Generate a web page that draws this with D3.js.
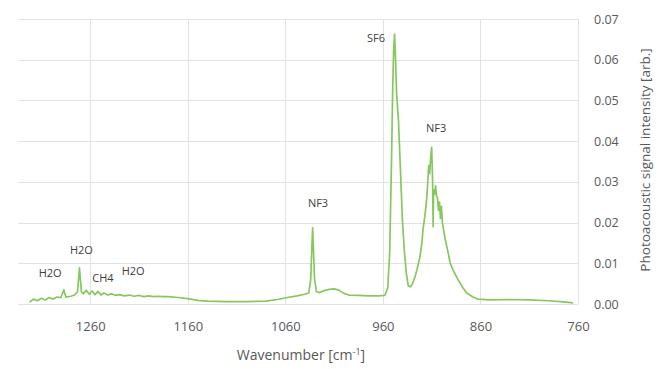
<!DOCTYPE html>
<html><head><meta charset="utf-8">
<script src="https://cdn.jsdelivr.net/npm/d3@7"></script>
<style>body{margin:0;background:#fff}svg{display:block;font-family:"Open Sans",sans-serif}</style>
</head><body><svg id="c" width="662" height="369"></svg>
<script>
const wavenumber = [1322,1318,1314,1310,1306,1302,1298,1294,1290,1287,1285,1280,1276,1273,1271,1269,1267,1264,1261,1258,1255,1252,1249,1246,1242,1238,1234,1230,1225,1220,1215,1210,1205,1200,1195,1190,1185,1180,1170,1160,1150,1140,1120,1100,1080,1068,1058,1048,1040,1036,1034,1032,1030,1028,1025,1020,1015,1010,1005,1000,995,985,975,965,958,955,953,952,951,950,949,948,947,946,944,942,940,938,936,934,932,930,927,925,922,920,919,917,915,914,913,912,911,910,909,908.5,908,907,906,905,904,903,902,901,900,899,898,896,893,891,887,883,878,874,868,863,850,830,810,790,775,765];
const intensity = [0.0005,0.0012,0.0008,0.0014,0.0010,0.0016,0.0012,0.0017,0.0016,0.0035,0.0017,0.0019,0.0022,0.0030,0.0089,0.0030,0.0025,0.0034,0.0024,0.0032,0.0023,0.0031,0.0022,0.0027,0.0022,0.0025,0.0021,0.0023,0.0020,0.0022,0.0019,0.0021,0.0018,0.0020,0.0018,0.0019,0.0018,0.0018,0.0016,0.0013,0.0009,0.0007,0.0006,0.0006,0.0007,0.0011,0.0016,0.0020,0.0024,0.0027,0.0060,0.0187,0.0060,0.0030,0.0028,0.0033,0.0036,0.0037,0.0034,0.0026,0.0022,0.0021,0.0020,0.0020,0.0021,0.0040,0.0126,0.0250,0.0370,0.0520,0.0620,0.0663,0.0600,0.0520,0.0450,0.0330,0.0207,0.0130,0.0076,0.0045,0.0042,0.0048,0.0067,0.0085,0.0116,0.0150,0.0180,0.0215,0.0260,0.0300,0.0340,0.0320,0.0360,0.0385,0.0300,0.0190,0.0280,0.0270,0.0290,0.0265,0.0260,0.0230,0.0250,0.0210,0.0240,0.0200,0.0185,0.0158,0.0125,0.0100,0.0078,0.0060,0.0040,0.0027,0.0018,0.0012,0.0010,0.0011,0.0010,0.0008,0.0005,0.0003];
const xTicks = [1260,1160,1060,960,860,760];
const yTicks = [0,0.01,0.02,0.03,0.04,0.05,0.06,0.07];
const labelText = ["H2O","H2O","CH4","H2O","NF3","SF6","NF3"];
const labelWn = [1301,1269,1247,1216,1026.5,967,905.5];
const labelVal = [0.0066,0.0123,0.0054,0.0071,0.0238,0.0644,0.0423];

const svg = d3.select("#c");
const L=18,R=578,T=19,B=304;
const x = d3.scaleLinear().domain([1334,760]).range([L,R]);
const y = d3.scaleLinear().domain([0,0.07]).range([B,T]);

const grid = svg.append("g").attr("stroke","#e2e2e2").attr("stroke-width",1);
grid.selectAll("line.h").data(yTicks).join("line").attr("class","h")
  .attr("x1",L).attr("x2",R).attr("y1",d=>Math.round(y(d))+0.5).attr("y2",d=>Math.round(y(d))+0.5);
grid.selectAll("line.v").data(xTicks).join("line").attr("class","v")
  .attr("y1",T).attr("y2",B).attr("x1",d=>Math.round(x(d))+0.5).attr("x2",d=>Math.round(x(d))+0.5);

const xa = svg.append("g").attr("transform",`translate(0,${B})`)
  .call(d3.axisBottom(x).tickValues(xTicks).tickSize(0).tickPadding(18).tickFormat(d3.format("d")));
xa.select(".domain").remove();
xa.selectAll("text").attr("fill","#595959").attr("font-size","13px").attr("font-family","Open Sans");

const ya = svg.append("g").attr("transform",`translate(${R},0)`)
  .call(d3.axisRight(y).tickValues(yTicks).tickSize(0).tickPadding(16).tickFormat(d3.format(".2f")));
ya.select(".domain").remove();
ya.selectAll("text").attr("fill","#595959").attr("font-size","12.5px").attr("font-family","Open Sans");

const data = wavenumber.map((w,i)=>[w,intensity[i]]);
svg.append("path").datum(data)
  .attr("fill","none").attr("stroke","#86c760").attr("stroke-width",1.7).attr("stroke-linejoin","round")
  .attr("d",d3.line().x(d=>x(d[0])).y(d=>y(d[1])));

svg.selectAll("text.lab").data(labelText).join("text").attr("class","lab")
  .attr("x",(d,i)=>x(labelWn[i])).attr("y",(d,i)=>y(labelVal[i]))
  .attr("text-anchor","middle").attr("font-size","11px").attr("fill","#404040")
  .text(d=>d);

const xt = svg.append("text").attr("x",301).attr("y",360).attr("text-anchor","middle")
  .attr("font-size","14px").attr("fill","#595959");
xt.append("tspan").text("Wavenumber [cm");
xt.append("tspan").attr("font-size","9px").attr("dy","-5").text("-1");
xt.append("tspan").attr("dy","5").text("]");

svg.append("text").attr("transform","translate(650,160) rotate(-90)").attr("text-anchor","middle")
  .attr("font-size","13.5px").attr("fill","#595959").text("Photoacoustic signal intensity [arb.]");
</script></body></html>
